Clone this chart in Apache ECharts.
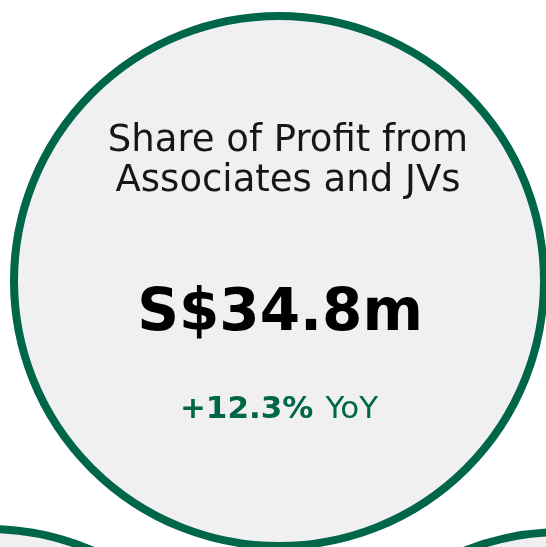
<!DOCTYPE html>
<html lang="en">
<head>
    <meta charset="UTF-8">
    <title>Share of Profit from Associates and JVs</title>
    <script src="https://cdn.jsdelivr.net/npm/echarts@6/dist/echarts.min.js"></script>
    <style>
        html, body { margin: 0; padding: 0; background: #fff; }
    </style>
</head>
<body>
   <div id="main" style="width: 546px;height:547px;"></div>
   <script type="text/javascript">
       // kpi card data
       var titleLines = ['Share of Profit from', 'Associates and JVs'];
       var kpiValue = ['S$34.8m'];
       var yoyChange = ['+12.3%'];
       var yoyLabel = ['YoY'];

       var green = '#00664a';
       var font = 'DejaVu Sans';

       var myChart = echarts.init(document.getElementById('main'));

       // circles: main one plus the two neighbours peeking in at the bottom
       var circles = [
           {cx: 279, cy: 281, r: 265},
           {cx: -12, cy: 794, r: 265},
           {cx: 562, cy: 797, r: 265}
       ];

       var elements = circles.map(function (c) {
           return {
               type: 'circle',
               shape: {cx: c.cx, cy: c.cy, r: c.r},
               style: {fill: '#f0f0f0', stroke: green, lineWidth: 8}
           };
       });

       titleLines.forEach(function (t, i) {
           elements.push({
               type: 'text',
               x: 288, y: 141 + i * 40,
               style: {
                   text: t, fill: '#161616', font: '37px "' + font + '"',
                   align: 'center', verticalAlign: 'middle'
               }
           });
       });

       elements.push({
           type: 'text',
           x: 280, y: 315,
           style: {
               text: kpiValue[0], fill: '#000', font: 'bold 58px "' + font + '"',
               align: 'center', verticalAlign: 'middle'
           }
       });

       elements.push({
           type: 'text',
           x: 279, y: 410,
           style: {
               text: '{b|' + yoyChange[0] + '}{n|' + yoyLabel[0] + '}',
               align: 'center', verticalAlign: 'middle',
               rich: {
                   b: {fill: green, font: 'bold 31px "' + font + '"'},
                   n: {fill: green, font: '31px "' + font + '"', padding: [0, 0, 0, 12]}
               }
           }
       });

       var option = {
           animation: false,
           graphic: {elements: elements}
       };

       myChart.setOption(option);
   </script>
</body>
</html>
